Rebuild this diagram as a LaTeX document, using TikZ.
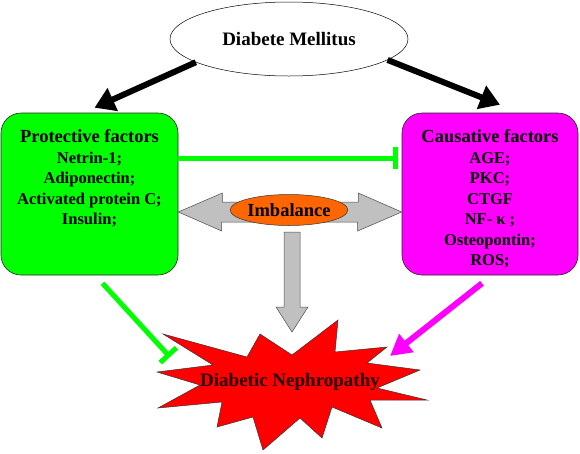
\documentclass[tikz,border=0pt]{standalone}
\usepackage{fontspec}
\setmainfont{Liberation Serif}
\usetikzlibrary{shapes,arrows.meta,positioning,calc}
\definecolor{protgreen}{RGB}{0,255,0}
\definecolor{causmagenta}{RGB}{255,0,255}
\definecolor{blockgray}{RGB}{192,192,192}
\definecolor{imborange}{RGB}{255,102,0}
\definecolor{burstred}{RGB}{255,0,0}

\begin{document}
\begin{tikzpicture}[x=1pt, y=-1pt,
  factorbox/.style={draw=black!85, rectangle, rounded corners=20pt, minimum width=177pt, minimum height=162pt, line width=0.6pt},
  factortext/.style={anchor=north, align=center, inner sep=0pt, font=\bfseries\fontsize{16.5}{20.5}\selectfont},
  blackarrow/.style={-{Triangle[length=20pt,width=24pt]}, line width=6pt, black},
  inhibit/.style={-{Bar[width=22pt]}, line width=5pt, protgreen},
  causearrow/.style={-{Triangle[length=21pt,width=22pt]}, line width=6pt, causmagenta},
  grayblock/.style={draw=black!70, fill=blockgray, line width=0.5pt}]
\useasboundingbox (0,0) rectangle (580,453);

% Top node
\node[draw, ellipse, minimum width=238pt, minimum height=74pt, line width=0.5pt, font=\bfseries\fontsize{19}{23}\selectfont] (dm) at (289,39) {Diabete Mellitus};

% Factor boxes
\node[factorbox, fill=protgreen] (pro) at (89.5,194) {};
\node[factorbox, fill=causmagenta, minimum width=176pt] (cau) at (490,194) {};
\node[factortext] (protxt) at ([yshift=-17pt]pro.north) {{\fontsize{18.5}{20.5}\selectfont Protective factors}\\Netrin-1;\\Adiponectin;\\Activated protein C;\\Insulin;};
\node[factortext] (cautxt) at ([yshift=-17pt]cau.north) {{\fontsize{18.5}{20.5}\selectfont Causative factors}\\AGE;\\PKC;\\CTGF\\NF- κ ;\\Osteopontin;\\ROS;};

% Arrows from the top
\draw[blackarrow] (dm.194) -- ([xshift=5pt,yshift=5pt]pro.north);
\draw[blackarrow] (dm.-12) -- ([xshift=10pt,yshift=8pt]cau.north);

% Inhibition between the boxes
\draw[inhibit] ([yshift=36pt]pro.east) -- ([xshift=-4pt,yshift=36pt]cau.east -| cau.west);

% Imbalance
\coordinate (imbc) at (290,212);
\coordinate (imbL) at (pro.east |- imbc);
\coordinate (imbR) at (cau.west |- imbc);
\filldraw[grayblock] (imbL) -- ++(44,-19) -- ++(0,9) -- ++(136,0) -- ++(0,-9) -- (imbR)
  -- ++(-44,19) -- ++(0,-9) -- ++(-136,0) -- ++(0,9) -- cycle;
\coordinate (dtop) at (292,232);
\filldraw[grayblock] ($(dtop)+(-8,0)$) -- ++(16,0) -- ++(0,75) -- ++(8,0) -- ++(-16,25)
  -- ++(-16,-25) -- ++(8,0) -- cycle;
\node[draw=black!80, ellipse, fill=imborange, minimum width=108pt, minimum height=31pt, inner sep=0pt, line width=0.5pt, font=\bfseries\fontsize{18.5}{20}\selectfont] (imb) at (289,210) {Imbalance};

% Burst
\filldraw[draw=black!80, fill=burstred, line width=0.5pt] (163,334) -- (247,357) -- (260,334) -- (292,355)
  -- (338,320) -- (335,352) -- (387,347) -- (367,363) -- (420,370) -- (377,388)
  -- (427,400) -- (370,400) -- (382,428) -- (332,407) -- (322,438) -- (300,418)
  -- (263,450) -- (253,417) -- (217,427) -- (222,402) -- (158,408) -- (200,385)
  -- (157,372) -- (213,365) -- cycle;
\node[font=\bfseries\fontsize{19}{22}\selectfont, text=black!85!burstred] (dn) at (290,382) {Diabetic Nephropathy};

% Effects on the outcome
\coordinate (gin) at (170,357);
\coordinate (mag) at (390,356);
\draw[inhibit] ([xshift=13pt,yshift=-8pt]pro.south) -- (gin);
\draw[causearrow] ([xshift=-8pt,yshift=-8pt]cau.south) -- (mag);
\end{tikzpicture}
\end{document}
